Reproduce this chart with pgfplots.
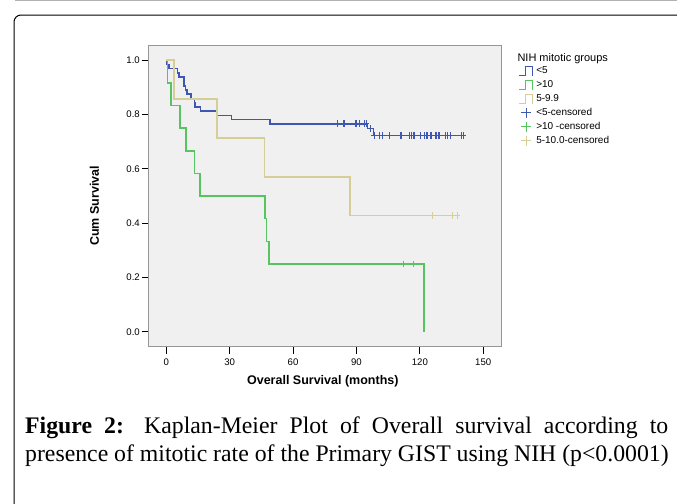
\documentclass[border=0pt]{standalone}
\usepackage{pgfplots}
\pgfplotsset{compat=1.18}
\usepackage{fontspec}
\setmainfont{Liberation Sans}
\newfontfamily\capfont{Liberation Serif}

\definecolor{kmblue}{RGB}{62,88,178}
\definecolor{kmgreen}{RGB}{86,196,96}
\definecolor{kmkhaki}{RGB}{214,206,152}
\definecolor{plotbg}{RGB}{240,240,240}
\definecolor{framegray}{RGB}{150,150,150}

\pgfplotsset{
  kmstep/.style={legend image code/.code={\path[draw=none, fill=none] (0bp,-5.5bp) rectangle (15bp,5.5bp);
    \draw[##1, line width=1.1bp] (0bp,-4.5bp) -- (6.7bp,-4.5bp) -- (6.7bp,4.5bp) -- (14bp,4.5bp) -- (14bp,-4.5bp);}},
  kmcens/.style={only marks, mark=+, mark size=3.4bp, mark options={line width=0.9bp},
    legend image code/.code={\path[draw=none, fill=none] (0bp,-5.5bp) rectangle (15bp,5.5bp);
    \draw[##1, mark size=5bp] plot coordinates {(7.3bp,0bp)};}},
}

\newlength\capw
\newcommand\captwo{presence of mitotic rate of the Primary GIST using NIH (p<0.0001)}

\begin{document}%
\settowidth{\capw}{\capfont\fontsize{10pt}{12pt}\selectfont\captwo}%
\pgfmathsetmacro\capsize{10*645.9/\capw}%
\begin{tikzpicture}
\useasboundingbox (0,0) rectangle (677bp,-504bp);

% page frame
\draw[gray!60, line width=1.2bp] (15bp,-0.6bp) -- (677bp,-0.6bp);
\draw[line width=1bp, rounded corners=7bp] (14bp,-520bp) -- (14bp,-15bp) -- (700bp,-15bp);

\begin{axis}[
  scale only axis, width=352.7bp, height=301bp,
  at={(148.3bp,-346bp)}, anchor=south west,
  xmin=-8.5, xmax=158.4, ymin=-0.052, ymax=1.056,
  axis background/.style={fill=plotbg},
  axis line style={framegray, line width=0.8bp},
  xtick={0,30,60,90,120,150}, ytick={0,0.2,0.4,0.6,0.8,1.0},
  xtick pos=bottom, ytick pos=left,
  tick align=outside, major tick length=6.5bp,
  tick style={black, line width=0.8bp},
  xtick style={yshift=-1.3bp},
  /pgf/number format/assume math mode=true,
  ticklabel style={font=\fontsize{9.6bp}{11bp}\selectfont},
  xticklabel style={yshift=-2.5bp},
  yticklabel style={xshift=1.5bp, /pgf/number format/.cd, fixed, fixed zerofill, precision=1},
  xlabel={Overall Survival (months)}, ylabel={Cum Survival},
  label style={font=\bfseries\fontsize{12.5bp}{14bp}\selectfont},
  xlabel style={at={(axis description cs:0.4948,-0.1163)}, anchor=center},
  ylabel style={at={(axis description cs:-0.1531,0.4658)}, anchor=center},
  legend style={draw=none, fill=none, at={(axis description cs:1,1)}, anchor=north west,
    xshift=17bp, yshift=-20.5bp, font=\fontsize{10bp}{11bp}\selectfont,
    row sep=2.9bp, column sep=2.5bp, inner sep=0pt,
    nodes={inner sep=0pt, text height=7bp, text depth=2bp}},
  legend cell align=left,
]
% survival curves
\addplot[kmblue, line width=1.5bp, const plot, kmstep]
  coordinates {(0,1) (0.1,0.984) (1.3,0.969) (5.4,0.953) (6.0,0.938) (8.5,0.906) (9.2,0.891)
    (9.8,0.875) (11.7,0.859) (13.3,0.844) (13.6,0.828) (16.3,0.813) (24.0,0.797) (30.9,0.781)
    (49.1,0.766) (95.3,0.748) (98.0,0.722) (140.4,0.722)};
\addplot[kmgreen, line width=1.7bp, const plot, kmstep]
  coordinates {(0,1) (0.6,0.917) (2.2,0.833) (6.5,0.75) (9.5,0.667) (13.3,0.583) (15.8,0.5)
    (46.6,0.417) (47.5,0.333) (48.6,0.25) (121.8,0)};
\addplot[kmkhaki, line width=1.6bp, const plot, kmstep]
  coordinates {(0,1) (3.6,0.857) (24.0,0.714) (46.4,0.571) (86.9,0.429) (137.6,0.429)};
% censored cases
\addplot[kmblue, kmcens]
  coordinates {(80.9,0.766) (83.8,0.766) (84.5,0.766) (89.3,0.766) (89.9,0.766) (91.2,0.766)
    (93.6,0.766) (94.5,0.766) (96.4,0.748)
    (98.4,0.722) (101.1,0.722) (102.2,0.722) (105.4,0.722) (110.6,0.722) (111.4,0.722)
    (114.9,0.722) (116.1,0.722) (116.9,0.722) (117.4,0.722) (120.4,0.722) (122.1,0.722)
    (122.9,0.722) (123.5,0.722) (124.8,0.722) (125.7,0.722) (127.5,0.722) (128.0,0.722)
    (128.6,0.722) (129.2,0.722) (132.2,0.722) (133.0,0.722) (134.6,0.722) (139.8,0.722)
    (140.4,0.722)};
\addplot[kmgreen, kmcens] coordinates {(112.4,0.25) (117.2,0.25)};
\addplot[kmkhaki, kmcens] coordinates {(126.1,0.429) (135.5,0.429) (137.6,0.429)};
\legend{<5, >10, 5-9.9, <5-censored, >10 -censored, 5-10.0-censored}
\end{axis}

\node[anchor=west, inner sep=0pt, font=\fontsize{11bp}{12bp}\selectfont] at (517.3bp,-58.3bp) {NIH mitotic groups};

% caption
\node[anchor=base west, inner sep=0pt] at (25bp,-433bp)
  {\capfont\fontsize{\capsize pt}{28pt}\selectfont\hbox to 643bp{\textbf{Figure 2:} Kaplan-Meier Plot of Overall survival according to}};
\node[anchor=base west, inner sep=0pt] at (25bp,-461bp)
  {\capfont\fontsize{\capsize pt}{28pt}\selectfont\captwo};
\end{tikzpicture}%
\end{document}
